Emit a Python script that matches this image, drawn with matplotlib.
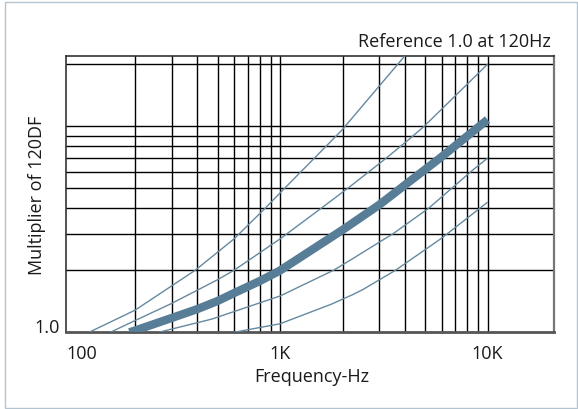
import matplotlib
matplotlib.use("Agg")
import matplotlib.pyplot as plt
from matplotlib.patches import Rectangle
from matplotlib.transforms import ScaledTranslation

plt.rcParams['font.family'] = ['Open Sans', 'DejaVu Sans']

# ---- data ----
a_freq = [120, 200, 390, 600, 848, 1011, 1247, 1463, 1805, 1990, 4000]
a_val = [1.0, 1.28, 2.0, 2.84, 4.0, 4.8, 5.95, 7.0, 8.68, 9.6, 22.0]

b_freq = [152, 200, 300, 500, 600, 1000, 1579, 2175, 2700, 3245, 4160, 4950, 10000]
b_val = [1.0, 1.14, 1.38, 1.8, 2.0, 2.84, 4.0, 5.1, 6.05, 7.0, 8.6, 10.0, 20.0]

c_freq = [188, 200, 300, 400, 500, 600, 800, 1000, 2000, 3000, 4000, 6000, 10000]
c_val = [1.0, 1.02, 1.173, 1.297, 1.419, 1.55, 1.775, 1.995, 3.14, 4.15, 5.19, 7.10, 10.77]

d_freq = [260, 470, 1000, 1810, 2228, 3190, 3490, 5200, 8600, 10000]
d_val = [1.0, 1.16, 1.5, 2.0, 2.27, 2.84, 3.0, 4.0, 6.2, 7.0]

e_freq = [600, 1000, 1770, 2228, 2500, 3600, 6000, 10000]
e_val = [1.0, 1.1, 1.37, 1.52, 1.61, 2.0, 2.86, 4.28]

x_grid = [200, 300, 400, 500, 600, 700, 800, 900,
          1000, 2000, 3000, 4000, 5000, 6000, 7000, 8000, 9000, 10000]
y_grid = [2, 3, 4, 5, 6, 7, 8, 9, 10, 20]
x_ticks = [100, 1000, 10000]
x_labels = ["100", "1K", "10K"]

W, H = 578, 410
fig = plt.figure(figsize=(W / 100, H / 100), dpi=100)
fig.patch.set_facecolor("white")

# outer frame
fig.patches.append(Rectangle((4.5 / W, 1.5 / H), (572 / W), (406 / H),
                             transform=fig.transFigure, fill=False,
                             edgecolor="#b3c3cf", lw=1.0))

L, R, T, B = 66.3, 554.0, 56.7, 333.3
ax = fig.add_axes([L / W, 1 - B / H, (R - L) / W, (B - T) / H])
ax.set_xscale("log")
ax.set_yscale("log")
ax.set_xlim(93.3, 20900)
ax.set_ylim(1.0, 22.0)

for xv in x_grid:
    ax.axvline(xv, color="black", lw=1.0, zorder=1)
for yv in y_grid:
    ax.axhline(yv, color="black", lw=1.0, zorder=1)

thin_c = "#6589a0"
thick_c = "#587d96"
for fx, fy in [(a_freq, a_val), (b_freq, b_val), (d_freq, d_val), (e_freq, e_val)]:
    ax.plot(fx, fy, color=thin_c, lw=1.0, zorder=3, solid_capstyle="butt",
            solid_joinstyle="round")
ax.plot(c_freq, c_val, color=thick_c, lw=6.0, zorder=3, solid_capstyle="butt",
        solid_joinstyle="round")

ax.xaxis.set_minor_locator(matplotlib.ticker.NullLocator())
ax.yaxis.set_minor_locator(matplotlib.ticker.NullLocator())
ax.set_xticks(x_ticks)
ax.set_xticklabels(x_labels)
ax.set_yticks([1.0])
ax.set_yticklabels(["1.0"])
ax.tick_params(axis="both", length=0, labelsize=13, colors="#1a1a1a")
ax.tick_params(axis="x", pad=8.5)
ax.tick_params(axis="y", pad=4.5)
for lab in ax.get_yticklabels():
    lab.set_va("baseline")
xl = ax.get_xticklabels()
xl[0].set_transform(xl[0].get_transform() + ScaledTranslation(9.5 / 100, 0, fig.dpi_scale_trans))

for s in ax.spines.values():
    s.set_color("#333333")
    s.set_linewidth(1.2)
ax.spines["bottom"].set_color("#555555")
ax.spines["bottom"].set_linewidth(2.0)
ax.spines["right"].set_color("#777777")
ax.spines["right"].set_linewidth(1.6)

fig.text(312 / W, 1 - 381.7 / H, "Frequency-Hz", ha="center", va="baseline",
         fontsize=13, color="#1a1a1a")
fig.text(37 / W, 1 - 195 / H, "Multiplier of 120DF", ha="center", va="center",
         rotation=90, fontsize=13, color="#1a1a1a")
fig.text(551 / W, 1 - 47.3 / H, "Reference 1.0 at 120Hz", ha="right", va="baseline",
         fontsize=13, color="#1a1a1a")

fig.savefig("out.png", dpi=100)
